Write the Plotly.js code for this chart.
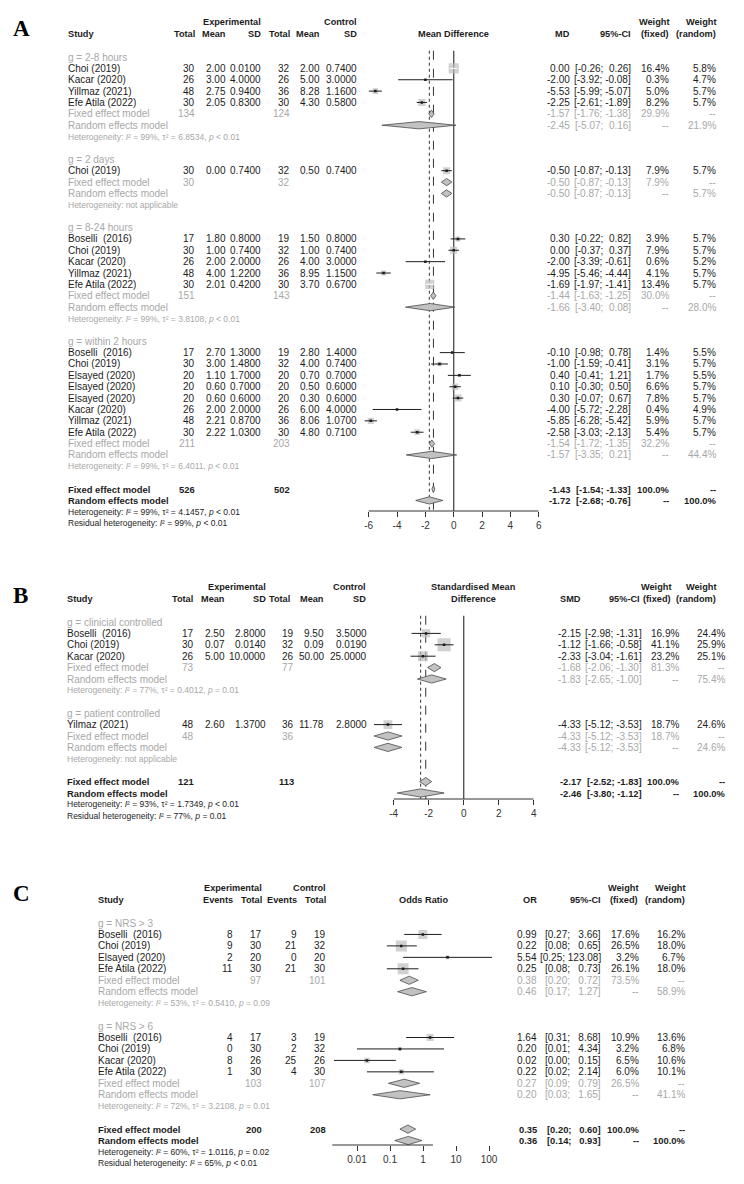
<!DOCTYPE html>
<html><head><meta charset="utf-8">
<script src="https://cdn.plot.ly/plotly-3.0.1.min.js"></script>
<style>html,body{margin:0;padding:0;background:#fff}</style>
</head><body><div id="chart" style="width:744px;height:1184px"></div>
<script>
// ================= Panel A : Mean Difference =================
const A_groups = ['2-8 hours', '2 days', '8-24 hours', 'within 2 hours'];
const A_studyGroup = [0,0,0,0, 1, 2,2,2,2,2, 3,3,3,3,3,3,3,3];
const A_study = ['Choi (2019)','Kacar (2020)','Yillmaz (2021)','Efe Atila (2022)',
  'Choi (2019)',
  'Boselli  (2016)','Choi (2019)','Kacar (2020)','Yillmaz (2021)','Efe Atila (2022)',
  'Boselli  (2016)','Choi (2019)','Elsayed (2020)','Elsayed (2020)','Elsayed (2020)','Kacar (2020)','Yillmaz (2021)','Efe Atila (2022)'];
const A_expTotal = [30,26,48,30, 30, 17,30,26,48,30, 17,30,20,20,20,26,48,30];
const A_expMean = [2.00,3.00,2.75,2.05, 0.00, 1.80,1.00,2.00,4.00,2.01, 2.70,3.00,1.10,0.60,0.60,2.00,2.21,2.22];
const A_expSD = [0.0100,4.0000,0.9400,0.8300, 0.7400, 0.8000,0.7400,2.0000,1.2200,0.4200, 1.3000,1.4800,1.7000,0.7000,0.6000,2.0000,0.8700,1.0300];
const A_ctrlTotal = [32,26,36,30, 32, 19,32,26,36,30, 19,32,20,20,20,26,36,30];
const A_ctrlMean = [2.00,5.00,8.28,4.30, 0.50, 1.50,1.00,4.00,8.95,3.70, 2.80,4.00,0.70,0.50,0.30,6.00,8.06,4.80];
const A_ctrlSD = [0.7400,3.0000,1.1600,0.5800, 0.7400, 0.8000,0.7400,3.0000,1.1500,0.6700, 1.4000,0.7400,0.7000,0.6000,0.6000,4.0000,1.0700,0.7100];
const A_md = [0.00,-2.00,-5.53,-2.25, -0.50, 0.30,0.00,-2.00,-4.95,-1.69, -0.10,-1.00,0.40,0.10,0.30,-4.00,-5.85,-2.58];
const A_lo = [-0.26,-3.92,-5.99,-2.61, -0.87, -0.22,-0.37,-3.39,-5.46,-1.97, -0.98,-1.59,-0.41,-0.30,-0.07,-5.72,-6.28,-3.03];
const A_hi = [0.26,-0.08,-5.07,-1.89, -0.13, 0.82,0.37,-0.61,-4.44,-1.41, 0.78,-0.41,1.21,0.50,0.67,-2.28,-5.42,-2.13];
const A_wFixed = [16.4,0.3,5.0,8.2, 7.9, 3.9,7.9,0.6,4.1,13.4, 1.4,3.1,1.7,6.6,7.8,0.4,5.9,5.4];
const A_wRandom = [5.8,4.7,5.7,5.7, 5.7, 5.7,5.7,5.2,5.7,5.7, 5.5,5.7,5.5,5.7,5.7,4.9,5.7,5.7];
const A_grpExpTotal = [134,30,151,211];
const A_grpCtrlTotal = [124,32,143,203];
const A_grpFixed = [-1.57,-0.50,-1.44,-1.54];
const A_grpFixedLo = [-1.76,-0.87,-1.63,-1.72];
const A_grpFixedHi = [-1.38,-0.13,-1.25,-1.35];
const A_grpFixedW = [29.9,7.9,30.0,32.2];
const A_grpRandom = [-2.45,-0.50,-1.66,-1.57];
const A_grpRandomLo = [-5.07,-0.87,-3.40,-3.35];
const A_grpRandomHi = [0.16,-0.13,0.08,0.21];
const A_grpRandomW = [21.9,5.7,28.0,44.4];
const A_grpHetI2 = [99, null, 99, 99];
const A_grpHetTau2 = [6.8534, null, 3.8108, 6.4011];
const A_grpHetP = ['< 0.01', null, '< 0.01', '< 0.01'];
const A_overallN = [526, 502];
const A_overallEst = [-1.43, -1.72];
const A_overallLo = [-1.54, -2.68];
const A_overallHi = [-1.33, -0.76];
const A_overallW = [100.0, 100.0];
const A_overallHet = [99, 4.1457, '< 0.01'];
const A_residualHet = [99, '< 0.01'];
const A_ticks = [-6,-4,-2,0,2,4,6];

// ================= Panel B : Standardised Mean Difference =================
const B_groups = ['clinicial controlled', 'patient controlled'];
const B_studyGroup = [0,0,0,1];
const B_study = ['Boselli  (2016)','Choi (2019)','Kacar (2020)','Yilmaz (2021)'];
const B_expTotal = [17,30,26,48];
const B_expMean = [2.50,0.07,5.00,2.60];
const B_expSD = [2.8000,0.0140,10.0000,1.3700];
const B_ctrlTotal = [19,32,26,36];
const B_ctrlMean = [9.50,0.09,50.00,11.78];
const B_ctrlSD = [3.5000,0.0190,25.0000,2.8000];
const B_smd = [-2.15,-1.12,-2.33,-4.33];
const B_lo = [-2.98,-1.66,-3.04,-5.12];
const B_hi = [-1.31,-0.58,-1.61,-3.53];
const B_wFixed = [16.9,41.1,23.2,18.7];
const B_wRandom = [24.4,25.9,25.1,24.6];
const B_grpExpTotal = [73,48];
const B_grpCtrlTotal = [77,36];
const B_grpFixed = [-1.68,-4.33];
const B_grpFixedLo = [-2.06,-5.12];
const B_grpFixedHi = [-1.30,-3.53];
const B_grpFixedW = [81.3,18.7];
const B_grpRandom = [-1.83,-4.33];
const B_grpRandomLo = [-2.65,-5.12];
const B_grpRandomHi = [-1.00,-3.53];
const B_grpRandomW = [75.4,24.6];
const B_grpHetI2 = [77, null];
const B_grpHetTau2 = [0.4012, null];
const B_grpHetP = ['= 0.01', null];
const B_overallN = [121, 113];
const B_overallEst = [-2.17, -2.46];
const B_overallLo = [-2.52, -3.80];
const B_overallHi = [-1.83, -1.12];
const B_overallW = [100.0, 100.0];
const B_overallHet = [93, 1.7349, '< 0.01'];
const B_residualHet = [77, '= 0.01'];
const B_ticks = [-4,-2,0,2,4];

// ================= Panel C : Odds Ratio =================
const C_groups = ['NRS > 3', 'NRS > 6'];
const C_studyGroup = [0,0,0,0,1,1,1,1];
const C_study = ['Boselli  (2016)','Choi (2019)','Elsayed (2020)','Efe Atila (2022)','Boselli  (2016)','Choi (2019)','Kacar (2020)','Efe Atila (2022)'];
const C_expEvents = [8,9,2,11,4,0,8,1];
const C_expTotal = [17,30,20,30,17,30,26,30];
const C_ctrlEvents = [9,21,0,21,3,2,25,4];
const C_ctrlTotal = [19,32,20,30,19,32,26,30];
const C_or = [0.99,0.22,5.54,0.25,1.64,0.20,0.02,0.22];
const C_lo = [0.27,0.08,0.25,0.08,0.31,0.01,0.002,0.02];
const C_hi = [3.66,0.65,123.08,0.73,8.68,4.34,0.15,2.14];
const C_wFixed = [17.6,26.5,3.2,26.1,10.9,3.2,6.5,6.0];
const C_wRandom = [16.2,18.0,6.7,18.0,13.6,6.8,10.6,10.1];
const C_grpExpTotal = [97,103];
const C_grpCtrlTotal = [101,107];
const C_grpFixed = [0.38,0.27];
const C_grpFixedLo = [0.20,0.09];
const C_grpFixedHi = [0.72,0.79];
const C_grpFixedW = [73.5,26.5];
const C_grpRandom = [0.46,0.20];
const C_grpRandomLo = [0.17,0.03];
const C_grpRandomHi = [1.27,1.65];
const C_grpRandomW = [58.9,41.1];
const C_grpHetI2 = [53, 72];
const C_grpHetTau2 = [0.5410, 3.2108];
const C_grpHetP = ['= 0.09', '= 0.01'];
const C_overallN = [200, 208];
const C_overallEst = [0.35, 0.36];
const C_overallLo = [0.20, 0.14];
const C_overallHi = [0.60, 0.93];
const C_overallW = [100.0, 100.0];
const C_overallHet = [60, 1.0116, '= 0.02'];
const C_residualHet = [65, '< 0.01'];
const C_ticks = [0.01, 0.1, 1, 10, 100];

// ================= helpers =================
const W = 744, H = 1184;
const FONT = '"Liberation Sans", Arial, sans-serif';
const SERIF = '"Liberation Serif", "Times New Roman", serif';
const INK = '#1c1c1c', GREY = '#a8a8a8', BOX = '#bdbdbd', DIAFILL = '#c2c2c2', DIALINE = '#4a4a4a';
const BOLD = 9.2, REG = 10, SMALL = 8.5;
const NB = '\u00a0';
const f2 = v => v.toFixed(2);
const f4 = v => v.toFixed(4);
const pct = v => v.toFixed(1) + '%';
const padL = (s, n) => NB.repeat(Math.max(0, n - s.length)) + s;
const ciMD = (lo, hi) => '[' + f2(lo) + ';' + NB + padL(f2(hi), 5) + ']';
const ciOR = (lo, hi) => '[' + f2(lo) + ';' + NB + padL(f2(hi), 6) + ']';
const esc = s => String(s).replace(/&/g,'&amp;').replace(/</g,'&lt;').replace(/>/g,'&gt;').replace(/  /g, NB + ' ');
function hetText(I2, tau2, p) {
  if (I2 == null) return 'Heterogeneity: not applicable';
  return 'Heterogeneity: <i>I</i>\u00b2 = ' + I2 + '%, τ\u00b2 = ' + f4(tau2) + ', <i>p</i> ' + esc(p);
}
function resText(I2, p) {
  return 'Residual heterogeneity: <i>I</i>\u00b2 = ' + I2 + '%, <i>p</i> ' + esc(p);
}

const annotations = [], shapes = [], traces = [];
const layout = {
  width: W, height: H, margin: {l: 0, r: 0, t: 0, b: 0},
  paper_bgcolor: '#ffffff', plot_bgcolor: 'rgba(0,0,0,0)', showlegend: false,
  annotations, shapes, hovermode: false
};

function buildPanel(D, L) {
  const ya = L.ya, xa = L.xa;
  const tx = v => L.log ? Math.log10(v) : v;
  const T = (xpx, row, text, anchor, color, size, bold) => annotations.push({
    xref: 'paper', yref: ya, x: xpx / W, y: row, xanchor: anchor, yanchor: 'middle',
    text: bold ? '<b>' + text + '</b>' : String(text), showarrow: false, borderpad: 0,
    font: {family: FONT, size: size || REG, color: color || INK}
  });
  // axes
  const axisRow = (L.axisPx - L.row0) / L.rowH;
  const pos = 1 - L.axisPx / H;
  layout[L.xaKey] = {
    domain: [L.x0px / W, L.x1px / W], range: L.range, type: L.log ? 'log' : 'linear',
    anchor: 'free', position: pos, showline: false, showgrid: false, zeroline: false,
    ticks: 'outside', ticklen: 5, tickwidth: 1, tickcolor: '#333',
    tickmode: 'array', tickvals: D.ticks, ticktext: D.ticks.map(String),
    tickfont: {family: FONT, size: 10, color: '#333'}, fixedrange: true
  };
  layout[L.yaKey] = {
    domain: [1 - L.yBotPx / H, 1 - L.yTopPx / H],
    range: [(L.yBotPx - L.row0) / L.rowH, (L.yTopPx - L.row0) / L.rowH],
    visible: false, anchor: xa, fixedrange: true
  };
  // panel letter
  annotations.push({xref: 'paper', yref: 'paper', x: 12 / W, y: 1 - L.letterPx / H, xanchor: 'left', yanchor: 'middle',
    text: '<b>' + L.letter + '</b>', showarrow: false, borderpad: 0, font: {family: SERIF, size: 23, color: '#000'}});
  // headers
  T(L.studyX, -2.05, 'Study', 'left', INK, BOLD, true);
  L.groupHeads.forEach(h => T(h.x, -3.05, h.text, 'right', INK, BOLD, true));
  L.forestHead.forEach((t, k) => T(L.forestHeadX, L.forestHead.length === 1 ? -2.05 : -3.05 + k, t, 'center', INK, BOLD, true));
  L.cols.forEach(c => {
    if (c.h1) T(c.hx || c.x, -3.05, c.h1, 'right', INK, BOLD, true);
    if (c.h2) T(c.hx || c.x, -2.05, c.h2, 'right', INK, BOLD, true);
  });
  // rows
  let r = 0;
  const sq = {x: [], y: [], s: []}, blk = {x: [], y: []}, wht = {x: [], y: []}, dot = {x: [], y: []};
  const dias = [];
  D.groups.forEach((gName, g) => {
    T(L.studyX, r, 'g = ' + esc(gName), 'left', GREY);
    r++;
    D.group.forEach((gg, i) => {
      if (gg !== g) return;
      T(L.studyX, r, esc(D.study[i]), 'left', INK);
      L.cols.forEach(c => T(c.x, r, c.st(i), 'right', INK));
      const size = L.sq * Math.sqrt(D.wF[i]);
      sq.x.push(D.est[i]); sq.y.push(r); sq.s.push(size);
      const ciPx = (tx(D.hi[i]) - tx(D.lo[i])) * L.pxPerUnit;
      const seg = ciPx < size ? wht : blk;
      seg.x.push(D.lo[i], D.hi[i], null); seg.y.push(r, r, null);
      if (seg === blk) { dot.x.push(D.est[i]); dot.y.push(r); }
      r++;
    });
    T(L.studyX, r, 'Fixed effect model', 'left', GREY);
    L.cols.forEach(c => { if (c.gf) T(c.x, r, c.gf(g), 'right', GREY); });
    dias.push([D.gF[g], D.gFlo[g], D.gFhi[g], r]);
    r++;
    T(L.studyX, r, 'Random effects model', 'left', GREY);
    L.cols.forEach(c => { if (c.gr) T(c.x, r, c.gr(g), 'right', GREY); });
    dias.push([D.gR[g], D.gRlo[g], D.gRhi[g], r]);
    r++;
    T(L.studyX, r, hetText(D.hetI2[g], D.hetTau2[g], D.hetP[g]), 'left', GREY, SMALL);
    r += 2;
  });
  T(L.studyX, r, 'Fixed effect model', 'left', INK, BOLD + 0.2, true);
  L.cols.forEach(c => { if (c.of != null) T(c.x, r, c.of, 'right', INK, BOLD + 0.2, true); });
  dias.push([D.oEst[0], D.oLo[0], D.oHi[0], r]);
  r++;
  T(L.studyX, r, 'Random effects model', 'left', INK, BOLD + 0.2, true);
  L.cols.forEach(c => { if (c.or != null) T(c.x, r, c.or, 'right', INK, BOLD + 0.2, true); });
  dias.push([D.oEst[1], D.oLo[1], D.oHi[1], r]);
  r++;
  T(L.studyX, r, hetText(D.oHet[0], D.oHet[1], D.oHet[2]), 'left', INK, SMALL);
  r++;
  T(L.studyX, r, resText(D.rHet[0], D.rHet[1]), 'left', INK, SMALL);

  // reference lines
  const top = -0.55;
  shapes.push({type: 'line', layer: 'below', xref: xa, yref: ya, x0: tx(D.nullValue), x1: tx(D.nullValue), y0: top, y1: axisRow,
    line: {color: '#555', width: 1.4}});
  shapes.push({type: 'line', layer: 'below', xref: xa, yref: ya, x0: tx(D.oEst[0]), x1: tx(D.oEst[0]), y0: top, y1: axisRow,
    line: {color: '#333', width: 1, dash: 'dash'}});
  shapes.push({type: 'line', layer: 'below', xref: xa, yref: ya, x0: tx(D.oEst[1]), x1: tx(D.oEst[1]), y0: top, y1: axisRow,
    line: {color: '#333', width: 1, dash: 'dot'}});
  shapes.push({type: 'line', xref: xa, yref: 'paper', x0: tx(Math.min(...D.ticks)), x1: tx(Math.max(...D.ticks)), y0: pos, y1: pos,
    line: {color: '#333', width: 1}});

  const base = {type: 'scatter', xaxis: xa, yaxis: ya, hoverinfo: 'skip', cliponaxis: true};
  traces.push(Object.assign({}, base, {mode: 'markers', x: sq.x, y: sq.y,
    marker: {symbol: 'square', size: sq.s, color: BOX, line: {width: 0}}}));
  traces.push(Object.assign({}, base, {mode: 'lines', x: blk.x, y: blk.y, line: {color: INK, width: 1}}));
  traces.push(Object.assign({}, base, {mode: 'lines', x: wht.x, y: wht.y, line: {color: '#ffffff', width: 1}}));
  traces.push(Object.assign({}, base, {mode: 'markers', x: dot.x, y: dot.y,
    marker: {symbol: 'square', size: 2.5, color: INK, line: {width: 0}}}));
  dias.forEach(([e, lo, hi, rr]) => {
    traces.push(Object.assign({}, base, {mode: 'lines', x: [lo, e, hi, e, lo], y: [rr, rr - L.dh, rr, rr + L.dh, rr],
      fill: 'toself', fillcolor: DIAFILL, line: {color: DIALINE, width: 0.8}}));
  });
}

// ---------- Panel A ----------
buildPanel({
  groups: A_groups, group: A_studyGroup, study: A_study, est: A_md, lo: A_lo, hi: A_hi, wF: A_wFixed,
  gF: A_grpFixed, gFlo: A_grpFixedLo, gFhi: A_grpFixedHi, gR: A_grpRandom, gRlo: A_grpRandomLo, gRhi: A_grpRandomHi,
  hetI2: A_grpHetI2, hetTau2: A_grpHetTau2, hetP: A_grpHetP,
  oEst: A_overallEst, oLo: A_overallLo, oHi: A_overallHi, oHet: A_overallHet, rHet: A_residualHet,
  ticks: A_ticks, nullValue: 0
}, {
  letter: 'A', letterPx: 29, xa: 'x', ya: 'y', xaKey: 'xaxis', yaKey: 'yaxis', log: false,
  row0: 57, rowH: 11.37, axisPx: 511, yTopPx: 0, yBotPx: 560,
  x0px: 360.2, x1px: 538.7, range: [-6.6, 6], pxPerUnit: 14.17, sq: 2.5, dh: 0.32,
  studyX: 67, forestHeadX: 453.7, forestHead: ['Mean Difference'],
  groupHeads: [{x: 262, text: 'Experimental'}, {x: 358, text: 'Control'}],
  cols: [
    {x: 196, h2: 'Total', st: i => A_expTotal[i], gf: g => A_grpExpTotal[g], of: A_overallN[0]},
    {x: 227, h2: 'Mean', st: i => f2(A_expMean[i])},
    {x: 262, h2: 'SD', st: i => f4(A_expSD[i])},
    {x: 291, h2: 'Total', st: i => A_ctrlTotal[i], gf: g => A_grpCtrlTotal[g], of: A_overallN[1]},
    {x: 321, h2: 'Mean', st: i => f2(A_ctrlMean[i])},
    {x: 358, h2: 'SD', st: i => f4(A_ctrlSD[i])},
    {x: 571, h2: 'MD', st: i => f2(A_md[i]), gf: g => f2(A_grpFixed[g]), gr: g => f2(A_grpRandom[g]),
      of: f2(A_overallEst[0]), or: f2(A_overallEst[1])},
    {x: 632, h2: '95%-CI', st: i => ciMD(A_lo[i], A_hi[i]), gf: g => ciMD(A_grpFixedLo[g], A_grpFixedHi[g]),
      gr: g => ciMD(A_grpRandomLo[g], A_grpRandomHi[g]), of: ciMD(A_overallLo[0], A_overallHi[0]), or: ciMD(A_overallLo[1], A_overallHi[1])},
    {x: 670, h1: 'Weight', h2: '(fixed)', st: i => pct(A_wFixed[i]), gf: g => pct(A_grpFixedW[g]), gr: g => '--',
      of: pct(A_overallW[0]), or: '--'},
    {x: 717, h1: 'Weight', h2: '(random)', st: i => pct(A_wRandom[i]), gf: g => '--', gr: g => pct(A_grpRandomW[g]),
      of: '--', or: pct(A_overallW[1])}
  ]
});

// ---------- Panel B ----------
buildPanel({
  groups: B_groups, group: B_studyGroup, study: B_study, est: B_smd, lo: B_lo, hi: B_hi, wF: B_wFixed,
  gF: B_grpFixed, gFlo: B_grpFixedLo, gFhi: B_grpFixedHi, gR: B_grpRandom, gRlo: B_grpRandomLo, gRhi: B_grpRandomHi,
  hetI2: B_grpHetI2, hetTau2: B_grpHetTau2, hetP: B_grpHetP,
  oEst: B_overallEst, oLo: B_overallLo, oHi: B_overallHi, oHet: B_overallHet, rHet: B_residualHet,
  ticks: B_ticks, nullValue: 0
}, {
  letter: 'B', letterPx: 595, xa: 'x2', ya: 'y2', xaKey: 'xaxis2', yaKey: 'yaxis2', log: false,
  row0: 622, rowH: 11.4, axisPx: 799, yTopPx: 565, yBotPx: 850,
  x0px: 370.95, x1px: 533.7, range: [-5.3, 4], pxPerUnit: 17.5, sq: 2.05, dh: 0.36,
  studyX: 66, forestHeadX: 473, forestHead: ['Standardised Mean', 'Difference'],
  groupHeads: [{x: 267, text: 'Experimental'}, {x: 367, text: 'Control'}],
  cols: [
    {x: 195, hx: 194, h2: 'Total', st: i => B_expTotal[i], gf: g => B_grpExpTotal[g], of: B_overallN[0]},
    {x: 226, h2: 'Mean', st: i => f2(B_expMean[i])},
    {x: 267, h2: 'SD', st: i => f4(B_expSD[i])},
    {x: 295, hx: 291, h2: 'Total', st: i => B_ctrlTotal[i], gf: g => B_grpCtrlTotal[g], of: B_overallN[1]},
    {x: 325, h2: 'Mean', st: i => f2(B_ctrlMean[i])},
    {x: 368, hx: 367, h2: 'SD', st: i => f4(B_ctrlSD[i])},
    {x: 582, h2: 'SMD', st: i => f2(B_smd[i]), gf: g => f2(B_grpFixed[g]), gr: g => f2(B_grpRandom[g]),
      of: f2(B_overallEst[0]), or: f2(B_overallEst[1])},
    {x: 643, hx: 641, h2: '95%-CI', st: i => ciMD(B_lo[i], B_hi[i]), gf: g => ciMD(B_grpFixedLo[g], B_grpFixedHi[g]),
      gr: g => ciMD(B_grpRandomLo[g], B_grpRandomHi[g]), of: ciMD(B_overallLo[0], B_overallHi[0]), or: ciMD(B_overallLo[1], B_overallHi[1])},
    {x: 680, hx: 672, h1: 'Weight', h2: '(fixed)', st: i => pct(B_wFixed[i]), gf: g => pct(B_grpFixedW[g]), gr: g => '--',
      of: pct(B_overallW[0]), or: '--'},
    {x: 726, hx: 717, h1: 'Weight', h2: '(random)', st: i => pct(B_wRandom[i]), gf: g => '--', gr: g => pct(B_grpRandomW[g]),
      of: '--', or: pct(B_overallW[1])}
  ]
});

// ---------- Panel C ----------
buildPanel({
  groups: C_groups, group: C_studyGroup, study: C_study, est: C_or, lo: C_lo, hi: C_hi, wF: C_wFixed,
  gF: C_grpFixed, gFlo: C_grpFixedLo, gFhi: C_grpFixedHi, gR: C_grpRandom, gRlo: C_grpRandomLo, gRhi: C_grpRandomHi,
  hetI2: C_grpHetI2, hetTau2: C_grpHetTau2, hetP: C_grpHetP,
  oEst: C_overallEst, oLo: C_overallLo, oHi: C_overallHi, oHet: C_overallHet, rHet: C_residualHet,
  ticks: C_ticks, nullValue: 1
}, {
  letter: 'C', letterPx: 893, xa: 'x3', ya: 'y3', xaKey: 'xaxis3', yaKey: 'yaxis3', log: true,
  row0: 923, rowH: 11.45, axisPx: 1145, yTopPx: 855, yBotPx: 1184,
  x0px: 332.25, x1px: 492.3, range: [-2.75, 2.1], pxPerUnit: 33.0, sq: 2.14, dh: 0.36,
  studyX: 97, forestHeadX: 423, forestHead: ['Odds Ratio'],
  groupHeads: [{x: 263, text: 'Experimental'}, {x: 327, text: 'Control'}],
  cols: [
    {x: 234, h2: 'Events', st: i => C_expEvents[i]},
    {x: 263, h2: 'Total', st: i => C_expTotal[i], gf: g => C_grpExpTotal[g], of: C_overallN[0]},
    {x: 298, h2: 'Events', st: i => C_ctrlEvents[i]},
    {x: 327, h2: 'Total', st: i => C_ctrlTotal[i], gf: g => C_grpCtrlTotal[g], of: C_overallN[1]},
    {x: 538, h2: 'OR', st: i => f2(C_or[i]), gf: g => f2(C_grpFixed[g]), gr: g => f2(C_grpRandom[g]),
      of: f2(C_overallEst[0]), or: f2(C_overallEst[1])},
    {x: 602, h2: '95%-CI', st: i => ciOR(C_lo[i], C_hi[i]), gf: g => ciOR(C_grpFixedLo[g], C_grpFixedHi[g]),
      gr: g => ciOR(C_grpRandomLo[g], C_grpRandomHi[g]), of: ciOR(C_overallLo[0], C_overallHi[0]), or: ciOR(C_overallLo[1], C_overallHi[1])},
    {x: 640, hx: 639, h1: 'Weight', h2: '(fixed)', st: i => pct(C_wFixed[i]), gf: g => pct(C_grpFixedW[g]), gr: g => '--',
      of: pct(C_overallW[0]), or: '--'},
    {x: 686, h1: 'Weight', h2: '(random)', st: i => pct(C_wRandom[i]), gf: g => '--', gr: g => pct(C_grpRandomW[g]),
      of: '--', or: pct(C_overallW[1])}
  ]
});

Plotly.newPlot('chart', traces, layout, {displayModeBar: false, staticPlot: true});
</script>
</body></html>
